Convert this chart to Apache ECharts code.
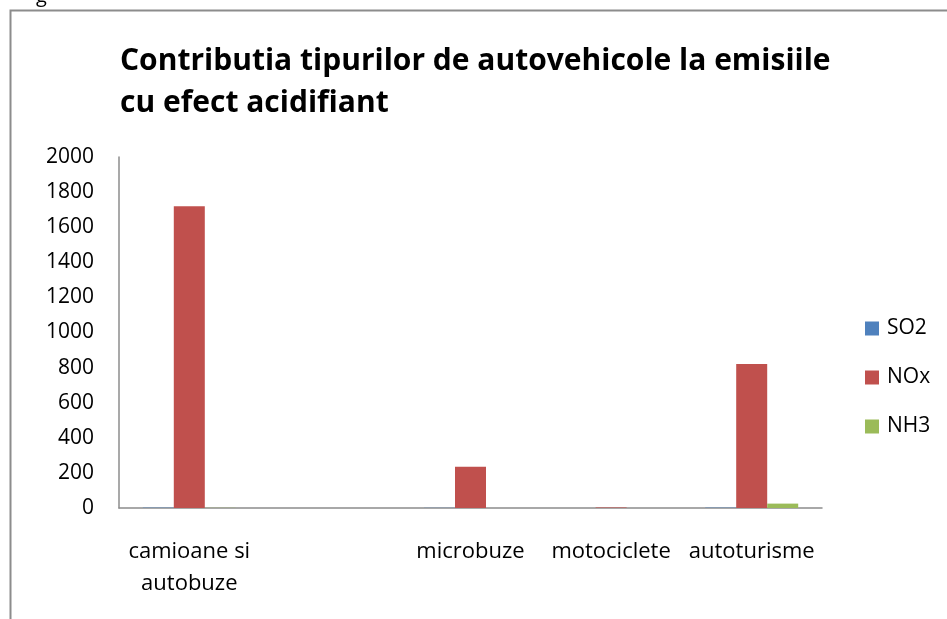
<!DOCTYPE html>
<html>
<head>
<meta charset="utf-8">
<script src="https://cdn.jsdelivr.net/npm/echarts@6/dist/echarts.min.js"></script>
<style>
  html, body { margin: 0; padding: 0; background: #fff; }
  #chart { width: 947px; height: 619px; }
</style>
</head>
<body>
<div id="chart"></div>
<script>
const categories = ['camioane si\nautobuze', '', 'microbuze', 'motociclete', 'autoturisme'];
const so2 = [2, 0, 1, 0, 2];
const nox = [1719, 0, 235, 3, 820];
const nh3 = [1, 0, 0, 0, 25];
const yTicks = { min: 0, max: 2000, interval: 200 };

const font = 'Open Sans';
const chart = echarts.init(document.getElementById('chart'));

const barSeries = (name, data, color) => ({
  name,
  type: 'bar',
  data,
  barWidth: 31,
  barGap: '0%',
  itemStyle: { color },
});

chart.setOption({
  animation: false,
  title: {
    text: 'Contributia tipurilor de autovehicole la emisiile\ncu efect acidifiant',
    left: 115,
    top: 35,
    textStyle: {
      fontFamily: font,
      fontSize: 30,
      fontWeight: 'bold',
      color: '#000',
      lineHeight: 42,
    },
  },
  legend: {
    orient: 'vertical',
    left: 860,
    top: 313,
    itemWidth: 14,
    itemHeight: 14,
    itemGap: 28,
    icon: 'rect',
    textStyle: { fontFamily: font, fontSize: 21, color: '#000', padding: [0, 0, 0, 3] },
  },
  grid: { left: 119, right: 125, top: 157, bottom: 111 },
  xAxis: {
    type: 'category',
    data: categories,
    axisLine: { lineStyle: { color: '#8c8c8c', width: 1.5 } },
    axisTick: { show: false },
    axisLabel: {
      interval: 0,
      margin: 28,
      fontFamily: font,
      fontSize: 22,
      color: '#000',
      lineHeight: 32,
    },
  },
  yAxis: {
    type: 'value',
    min: yTicks.min,
    max: yTicks.max,
    interval: yTicks.interval,
    splitLine: { show: false },
    axisLine: { show: true, lineStyle: { color: '#8c8c8c', width: 1.5 } },
    axisTick: { show: false },
    axisLabel: {
      margin: 25,
      fontFamily: font,
      fontSize: 21,
      color: '#000',
      formatter: (v) => String(v),
    },
  },
  graphic: [
    {
      type: 'rect',
      shape: { x: 10.5, y: 10.5, width: 1000, height: 700 },
      style: { fill: 'none', stroke: '#8c8c8c', lineWidth: 2 },
    },
    {
      type: 'text',
      left: 36,
      top: -14,
      style: { text: 'g', fontFamily: font, fontSize: 20, fill: '#000' },
    },
  ],
  series: [
    barSeries('SO2', so2, '#4F81BD'),
    barSeries('NOx', nox, '#C0504D'),
    barSeries('NH3', nh3, '#9BBB59'),
  ],
});
</script>
</body>
</html>
